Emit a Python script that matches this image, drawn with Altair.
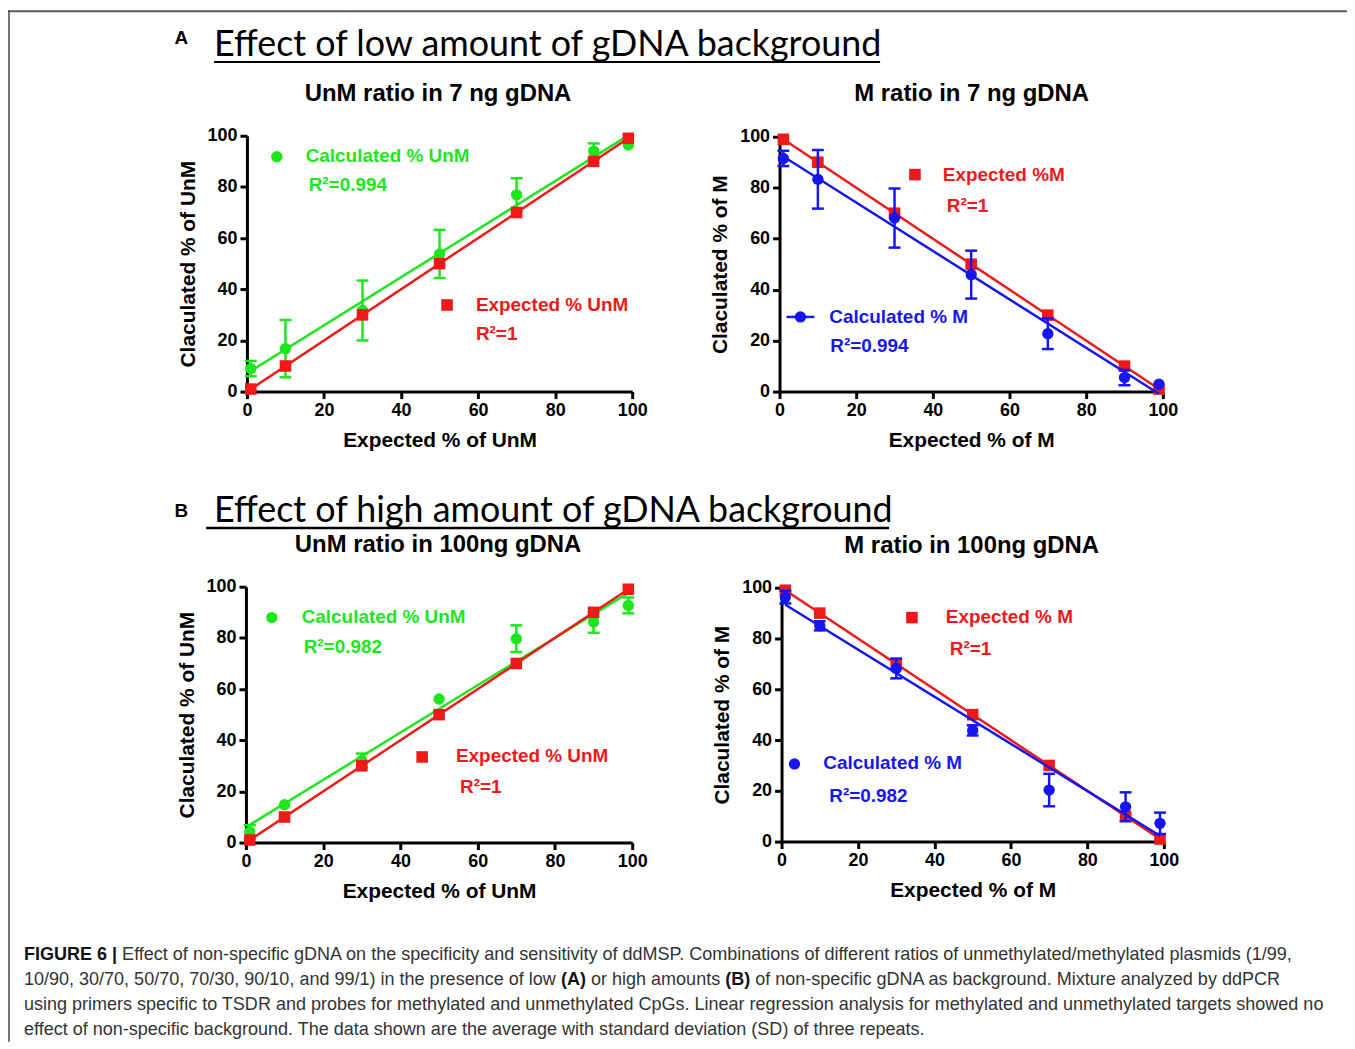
import altair as alt
import pandas as pd

# ---------------- data ----------------
x_levels = [1, 10, 30, 50, 70, 90, 99]
expected_unm = [1, 10, 30, 50, 70, 90, 99]
expected_m = [99, 90, 70, 50, 30, 10, 1]

low_calc_unm = [9.0, 16.8, 31.7, 53.8, 76.9, 94.0, 96.4]
low_calc_unm_sd = [3.0, 11.2, 11.7, 9.4, 6.5, 3.0, 0.0]
low_calc_m = [91.5, 83.3, 68.1, 45.9, 22.7, 5.5, 2.9]
low_calc_m_sd = [3.0, 11.5, 11.6, 9.4, 6.0, 3.0, 0.0]

high_calc_unm = [4.2, 14.8, 32.1, 56.1, 79.7, 86.2, 92.7]
high_calc_unm_sd = [2.6, 0.0, 2.7, 0.0, 5.2, 4.2, 3.1]
high_calc_m = [96.3, 85.0, 68.2, 43.8, 20.3, 13.7, 7.2]
high_calc_m_sd = [2.5, 1.8, 3.9, 2.0, 6.4, 5.7, 4.2]

axis_ticks = [0, 20, 40, 60, 80, 100]

# ---------------- style ----------------
W, H = 1345, 1036
GREEN = "#1ee61e"
RED = "#f01818"
BLUE = "#1616f0"
SANS = "Liberation Sans, Arial, Helvetica, sans-serif"
HEAD = "Lato, Carlito, Calibri, sans-serif"

AX = dict(domainColor="black", domainWidth=3, tickColor="black", tickWidth=3,
          tickSize=7, labelFont=SANS, labelFontSize=18, labelFontWeight="bold",
          labelColor="black", labelPadding=3, labelFlush=False, labelOverlap=False,
          titleFont=SANS, titleFontSize=21, titleFontWeight="bold",
          titleColor="black", grid=False, format="d")

ONE = pd.DataFrame({"k": [0]})


def panel(calc, sd, expected, color, xr, yr, xtitle, ytitle, calc_first):
    df = pd.DataFrame({"x": x_levels, "calc": calc, "sd": sd, "exp": expected})
    df["lo"] = df["calc"] - df["sd"]
    df["hi"] = df["calc"] + df["sd"]
    xs = alt.Scale(domain=[0, 100], range=list(xr), nice=False, zero=False)
    ys = alt.Scale(domain=[0, 100], range=list(yr), nice=False, zero=False)
    xax = alt.Axis(orient="bottom", offset=yr[0] - H, values=axis_ticks,
                   title=xtitle, titlePadding=10, **AX)
    yax = alt.Axis(orient="left", offset=-xr[0], values=axis_ticks,
                   title=ytitle, titlePadding=9, **AX)
    X = alt.X("x:Q", scale=xs, axis=xax)

    def Y(f):
        return alt.Y(f, type="quantitative", scale=ys, axis=yax)

    base = alt.Chart(df)
    err = base.transform_filter("datum.sd > 0")
    calc_layers = [
        err.mark_rule(color=color, strokeWidth=2.5).encode(x=X, y=Y("lo"), y2=alt.Y2("hi")),
        err.mark_rule(color=color, strokeWidth=2.5, xOffset=-6, x2Offset=6).encode(
            x=X, x2=alt.X2("x"), y=Y("lo")),
        err.mark_rule(color=color, strokeWidth=2.5, xOffset=-6, x2Offset=6).encode(
            x=X, x2=alt.X2("x"), y=Y("hi")),
        base.transform_regression("x", "calc").mark_line(color=color, strokeWidth=2.5).encode(
            x=X, y=Y("calc")),
        base.mark_point(filled=True, shape="circle", size=130, color=color, opacity=1).encode(
            x=X, y=Y("calc")),
    ]
    exp_layers = [
        base.transform_regression("x", "exp").mark_line(color=RED, strokeWidth=2.5).encode(
            x=X, y=Y("exp")),
        base.mark_point(filled=True, shape="square", size=135, color=RED, opacity=1).encode(
            x=X, y=Y("exp")),
    ]
    layers = calc_layers + exp_layers if calc_first else exp_layers + calc_layers
    return alt.layer(*layers)


def txt(t, x, y, size, color="black", weight="bold", font=SANS, align="left",
        baseline="middle"):
    return alt.Chart(ONE).mark_text(text=t, fontSize=size, fontWeight=weight, font=font,
                                    color=color, align=align, baseline=baseline).encode(
        x=alt.value(x), y=alt.value(y))


def hrule(x1, x2, y, color, width):
    return alt.Chart(ONE).mark_rule(color=color, strokeWidth=width).encode(
        x=alt.value(x1), x2=alt.value(x2), y=alt.value(y))


def vrule(x, y1, y2, color, width):
    return alt.Chart(ONE).mark_rule(color=color, strokeWidth=width).encode(
        x=alt.value(x), y=alt.value(y1), y2=alt.value(y2))


def sym(shape, x, y, color, size):
    return alt.Chart(ONE).mark_point(shape=shape, filled=True, size=size, color=color,
                                     opacity=1).encode(x=alt.value(x), y=alt.value(y))


# ---------------- caption text layout helpers ----------------
AR = {' ': 278, '(': 333, ')': 333, ',': 278, '-': 333, '.': 278, '/': 278, '|': 260,
      'A': 667, 'B': 667, 'C': 722, 'D': 722, 'E': 667, 'F': 611, 'G': 778, 'H': 722,
      'I': 278, 'L': 556, 'M': 833, 'N': 722, 'P': 667, 'R': 722, 'S': 667, 'T': 611,
      'U': 722, 'a': 556, 'b': 556, 'c': 500, 'd': 556, 'e': 556, 'f': 278, 'g': 556,
      'h': 556, 'i': 222, 'j': 222, 'k': 500, 'l': 222, 'm': 833, 'n': 556, 'o': 556,
      'p': 556, 'q': 556, 'r': 333, 's': 500, 't': 278, 'u': 556, 'v': 500, 'w': 722,
      'x': 500, 'y': 500, 'z': 500}
ARB = {' ': 278, '(': 333, ')': 333, '|': 280, 'A': 722, 'B': 722, 'E': 667, 'F': 611,
       'G': 778, 'I': 278, 'R': 722, 'U': 722}


def em(s, bold=False):
    tab = ARB if bold else AR
    return sum(tab.get(c, 556) for c in s) / 1000.0


cap_lines = [
    [("FIGURE 6 |", True),
     (" Effect of non-specific gDNA on the specificity and sensitivity of ddMSP. Combinations of different ratios of unmethylated/methylated plasmids (1/99,", False)],
    [("10/90, 30/70, 50/70, 70/30, 90/10, and 99/1) in the presence of low ", False),
     ("(A)", True), (" or high amounts ", False), ("(B)", True),
     (" of non-specific gDNA as background. Mixture analyzed by ddPCR", False)],
    [("using primers specific to TSDR and probes for methylated and unmethylated CpGs. Linear regression analysis for methylated and unmethylated targets showed no", False)],
    [("effect of non-specific background. The data shown are the average with standard deviation (SD) of three repeats.", False)],
]
CAP_SIZE = 1306.0 / em(cap_lines[2][0][0])
cap_y = [949, 974, 999, 1024]

layers = []
# frame
layers.append(hrule(0, W, 1, "#5a5a5a", 2))
layers.append(vrule(1, 0, H, "#4a4a4a", 1.5))

# headers
layers.append(txt("A", 174, 28, 19, align="center"))
layers.append(txt("Effect of low amount of gDNA background", 207, 46, 36, weight="normal",
                  font=HEAD, baseline="alphabetic"))
layers.append(hrule(207, 876, 52, "black", 2))
layers.append(txt("B", 174, 503, 19, align="center"))
layers.append(txt("Effect of high amount of gDNA background", 207, 514, 36, weight="normal",
                  font=HEAD, baseline="alphabetic"))
layers.append(hrule(199, 885, 520, "black", 2.5))

# panel titles
layers.append(txt("UnM ratio in 7 ng gDNA", 432, 84, 24, align="center"))
layers.append(txt("M ratio in 7 ng gDNA", 968, 84, 24, align="center"))
layers.append(txt("UnM ratio in 100ng gDNA", 432, 537, 24, align="center"))
layers.append(txt("M ratio in 100ng gDNA", 968, 538, 24, align="center"))

# panels
layers.append(panel(low_calc_unm, low_calc_unm_sd, expected_unm, GREEN,
                    (240, 627), (383, 126), "Expected % of UnM", "Claculated % of UnM", True))
layers.append(panel(low_calc_m, low_calc_m_sd, expected_m, BLUE,
                    (775, 1160), (383, 127), "Expected % of M", "Claculated % of M", False))
layers.append(panel(high_calc_unm, high_calc_unm_sd, expected_unm, GREEN,
                    (239, 627), (836, 579), "Expected % of UnM", "Claculated % of UnM", True))
layers.append(panel(high_calc_m, high_calc_m_sd, expected_m, BLUE,
                    (777, 1161), (835, 580), "Expected % of M", "Claculated % of M", False))

# in-plot legends
LS = 19
layers += [
    sym("circle", 270, 147, GREEN, 130),
    txt("Calculated % UnM", 299, 146, LS, GREEN),
    txt("R\u00b2=0.994", 302, 175, LS, GREEN),
    sym("square", 441, 296, RED, 135),
    txt("Expected % UnM", 470, 296, LS, RED),
    txt("R\u00b2=1", 470, 325, LS, RED),

    sym("square", 911, 165, RED, 135),
    txt("Expected %M", 939, 165, LS, RED),
    txt("R\u00b2=1", 943, 197, LS, RED),
    hrule(782, 810, 308, BLUE, 2.5),
    sym("circle", 796, 308, BLUE, 130),
    txt("Calculated % M", 825, 308, LS, BLUE),
    txt("R\u00b2=0.994", 826, 337, LS, BLUE),

    sym("circle", 265, 610, GREEN, 130),
    txt("Calculated % UnM", 295, 609, LS, GREEN),
    txt("R\u00b2=0.982", 297, 640, LS, GREEN),
    sym("square", 416, 750, RED, 135),
    txt("Expected % UnM", 450, 749, LS, RED),
    txt("R\u00b2=1", 454, 780, LS, RED),

    sym("square", 908, 610, RED, 135),
    txt("Expected % M", 942, 609, LS, RED),
    txt("R\u00b2=1", 946, 642, LS, RED),
    sym("circle", 790, 757, BLUE, 130),
    txt("Calculated % M", 819, 756, LS, BLUE),
    txt("R\u00b2=0.982", 825, 789, LS, BLUE),
]

# caption (leading/trailing spaces are collapsed by SVG, so advance x for them)
for line, yy in zip(cap_lines, cap_y):
    xx = 16.0
    for seg, bold in line:
        lead = len(seg) - len(seg.lstrip(" "))
        xx += lead * 0.278 * CAP_SIZE
        core = seg.strip(" ")
        layers.append(txt(core, xx, yy, CAP_SIZE, color="#111111" if bold else "#333333",
                          weight="bold" if bold else "normal"))
        xx += em(core, bold) * CAP_SIZE
        trail = len(seg) - len(seg.rstrip(" "))
        xx += trail * 0.278 * CAP_SIZE

chart = alt.layer(*layers).resolve_scale(x="independent", y="independent").properties(
    width=W, height=H, autosize=alt.AutoSizeParams(type="none"), padding=0
).configure_view(stroke=None)

chart.save("out.html", embed_options={"renderer": "svg", "actions": False})
